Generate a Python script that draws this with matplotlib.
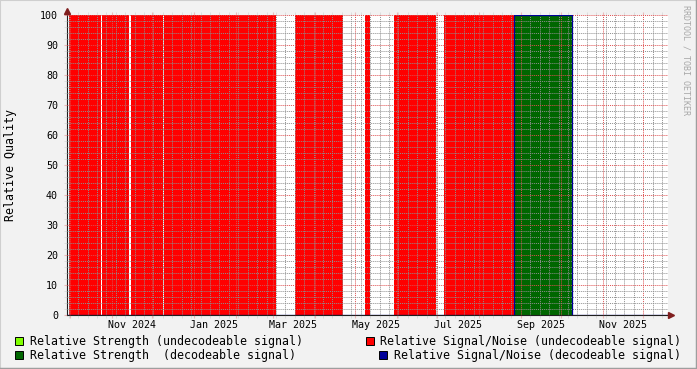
import pandas as pd
import matplotlib
matplotlib.use('Agg')
import matplotlib.pyplot as plt
import matplotlib.dates as mdates
from matplotlib.ticker import MultipleLocator
from matplotlib.patches import Rectangle
from matplotlib.lines import Line2D
from matplotlib.transforms import offset_copy

# Relative Signal/Noise (undecodeable signal) - red blocks
red_start = ['2024-09-30', '2024-10-25', '2024-11-15', '2024-12-10',
             '2025-03-17', '2025-05-08', '2025-05-30', '2025-07-06']
red_end = ['2024-10-24', '2024-11-14', '2024-12-09', '2025-03-03',
           '2025-04-22', '2025-05-12', '2025-06-30', '2025-08-27']
red_value = [100, 100, 100, 100, 100, 100, 100, 100]

# Relative Strength (decodeable signal) - green block
green_start = ['2025-08-27']
green_end = ['2025-10-09']
green_value = [100]

# Relative Signal/Noise (decodeable signal) - line
sn_dates = ['2024-09-28 18:00', '2025-08-27 00:00', '2025-08-27 00:00',
            '2025-10-09 00:00', '2025-10-09 00:00', '2025-12-19 08:00']
sn_values = [0, 0, 100, 100, 0, 0]

x_range = ['2024-09-28 18:00', '2025-12-19 08:00']
label_dates = ['2024-11-16', '2025-01-16', '2025-03-16', '2025-05-16',
               '2025-07-16', '2025-09-16', '2025-11-16']
tick_labels = ['Nov 2024', 'Jan 2025', 'Mar 2025', 'May 2025',
               'Jul 2025', 'Sep 2025', 'Nov 2025']

legend_items = [
    ('Relative Strength (undecodeable signal)', '#80FF00'),
    ('Relative Signal/Noise (undecodeable signal)', '#FF0000'),
    ('Relative Strength  (decodeable signal)', '#006600'),
    ('Relative Signal/Noise (decodeable signal)', '#000099'),
]

W, H = 697, 369
mono = 'DejaVu Sans Mono'
grid_col = (0.56, 0.56, 0.56, 0.25)
mgrid_col = (0.87, 0.31, 0.31, 0.35)
arrow_col = (0.5, 0.12, 0.12)
axis_col = (0.12, 0.12, 0.12)

fig = plt.figure(figsize=(W / 100, H / 100), dpi=100, facecolor='#F2F2F2')
ax = fig.add_axes([67 / W, 1 - 315 / H, (668 - 67) / W, 300 / H])
ax.set_facecolor('white')

for s, e, v in zip(red_start, red_end, red_value):
    ax.fill_between(pd.to_datetime([s, e]), 0, v, color='#FF0000', lw=0,
                    zorder=1, antialiased=False)
for s, e, v in zip(green_start, green_end, green_value):
    ax.fill_between(pd.to_datetime([s, e]), 0, v, color='#006600', lw=0,
                    zorder=1, antialiased=False)
ax.plot(pd.to_datetime(sn_dates), sn_values, color='#000099', lw=0.9, zorder=3)

ax.set_xlim(pd.to_datetime(x_range))
ax.set_ylim(0, 100)

# grid like rrdtool
ax.xaxis.set_major_locator(mdates.MonthLocator())
ax.xaxis.set_minor_locator(mdates.WeekdayLocator(byweekday=mdates.MO))
ax.yaxis.set_major_locator(MultipleLocator(10))
ax.yaxis.set_minor_locator(MultipleLocator(2))
ax.set_axisbelow(False)
ax.grid(which='major', color=mgrid_col, lw=0.7, ls=(0, (1, 1)))
ax.grid(which='minor', color=grid_col, lw=0.7, ls=(0, (1, 1)))
ax.xaxis.set_ticklabels([])
ax.tick_params(which='major', axis='x', length=2, color=mgrid_col, top=True, direction='out')
ax.tick_params(which='minor', axis='x', length=2, color=grid_col, top=True, direction='out')
ax.tick_params(which='major', axis='y', length=2, color=mgrid_col,
               labelsize=7.2, pad=4.5)
ax.tick_params(which='minor', axis='y', length=2, color=grid_col)
for lab in ax.get_yticklabels():
    lab.set_family(mono)

trans = offset_copy(ax.get_xaxis_transform(), fig=fig, y=-5, units='dots')
for d, t in zip(label_dates, tick_labels):
    ax.text(pd.to_datetime(d), 0, t, transform=trans, ha='center', va='top',
            family=mono, size=7.2)

for side in ['top', 'right']:
    ax.spines[side].set_visible(False)
ax.spines['left'].set_color(axis_col)
ax.spines['bottom'].set_color(axis_col)
ax.spines['left'].set_linewidth(0.8)
ax.spines['bottom'].set_linewidth(0.8)
ax.spines['left'].set_bounds(0, 100)

# arrows
ax.plot([1.0 + 3 / 601], [0], marker='>', ms=4.5, color=arrow_col,
        transform=ax.transAxes, clip_on=False, zorder=5)
ax.plot([0], [1.0 + 4 / 300], marker='^', ms=4.5, color=arrow_col,
        transform=ax.transAxes, clip_on=False, zorder=5)

fig.text(11 / W, 1 - 165 / H, 'Relative Quality', rotation=90, ha='center', va='center',
         family=mono, size=8.4)
fig.text(686 / W, 1 - 60 / H, 'RRDTOOL / TOBI OETIKER', rotation=270, ha='center',
         va='center', family=mono, size=6, color='#A8A8A8')

# legend
legend_pos = [(15, 30, 341), (366, 380, 341), (15, 30, 355), (379, 394, 355)]
for (txt, col), (bx, tx, cy) in zip(legend_items, legend_pos):
    fig.patches.append(Rectangle((bx / W, 1 - (cy + 4) / H), 8 / W, 8 / H,
                                 facecolor=col, edgecolor='black', lw=0.7,
                                 transform=fig.transFigure, figure=fig))
    fig.text(tx / W, 1 - cy / H, txt, ha='left', va='center', family=mono, size=8.35)

# 3d frame
fig.lines.append(Line2D([0, 0, 1], [0, 1, 1], transform=fig.transFigure,
                        color='#CFCFCF', lw=1.5))
fig.lines.append(Line2D([0, 1, 1], [0, 0, 1], transform=fig.transFigure,
                        color='#9E9E9E', lw=2.5))

fig.savefig('out.png', dpi=100, facecolor=fig.get_facecolor())
